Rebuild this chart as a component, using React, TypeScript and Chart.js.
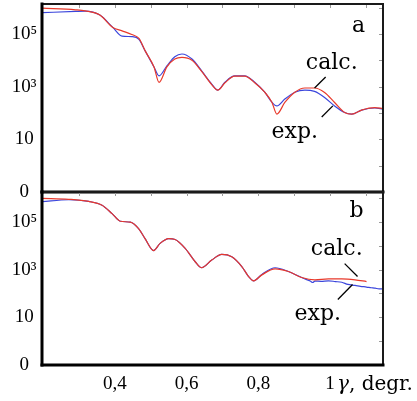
import React, { useEffect, useRef } from "react";
import { Chart, registerables } from "chart.js";

Chart.register(...registerables);

// ---- axis ticks ----
const xTickValues = [0.4, 0.6, 0.8, 1.0];
const xTickLabels = ["0,4", "0,6", "0,8", "1"];
const yTickValues = [0.1, 10, 1000, 100000];
const yTickLabels = ["0", "10", "10³", "10⁵"];
const topMinorX = [0.3, 0.4, 0.5, 0.6, 0.7, 0.8, 0.9, 1.0, 1.1];
const rightMinorY = [1, 10, 100, 1000, 10000, 100000, 1000000];

// ---- panel a ----
const topExpX = [0.197, 0.290, 0.317, 0.358, 0.394, 0.420, 0.447, 0.467, 0.484, 0.509, 0.523, 0.545, 0.567, 0.587, 0.615, 0.642, 0.670, 0.687, 0.707, 0.734, 0.762, 0.790, 0.818, 0.838, 0.852, 0.874, 0.902, 0.930, 0.957, 0.985, 1.013, 1.041, 1.061, 1.088, 1.125, 1.148];
const topExpY = [646000, 724000, 741000, 525000, 178000, 83200, 79400, 63100, 23400, 5620, 2570, 6170, 13800, 17400, 11200, 3980, 1260, 741, 1480, 2570, 2570, 1480, 617, 257, 186, 339, 617, 741, 661, 389, 186, 105, 91.2, 129, 155, 141];
const topCalcX = [0.197, 0.290, 0.317, 0.358, 0.394, 0.420, 0.447, 0.467, 0.484, 0.509, 0.523, 0.545, 0.567, 0.587, 0.615, 0.642, 0.670, 0.687, 0.707, 0.734, 0.762, 0.790, 0.818, 0.838, 0.852, 0.874, 0.902, 0.930, 0.957, 0.985, 1.013, 1.041, 1.061, 1.088, 1.125, 1.148];
const topCalcY = [955000, 832000, 759000, 525000, 178000, 132000, 95500, 67600, 23400, 5620, 1450, 5620, 11200, 12900, 10000, 3800, 1200, 741, 1410, 2510, 2510, 1410, 617, 257, 91.2, 251, 617, 891, 891, 603, 251, 105, 91.2, 129, 160, 148];

// ---- panel b ----
const botExpX = [0.197, 0.271, 0.327, 0.364, 0.392, 0.415, 0.443, 0.466, 0.484, 0.508, 0.526, 0.550, 0.568, 0.596, 0.624, 0.642, 0.670, 0.698, 0.726, 0.754, 0.773, 0.787, 0.810, 0.847, 0.884, 0.921, 0.935, 0.945, 0.952, 0.958, 0.975, 0.996, 1.015, 1.033, 1.050, 1.070, 1.085, 1.102, 1.115, 1.126, 1.137, 1.148];
const botExpY = [708000, 851000, 724000, 501000, 224000, 107000, 97700, 52500, 20000, 6310, 12600, 20000, 18200, 7760, 2140, 1200, 2510, 4370, 3470, 1350, 513, 339, 631, 1200, 832, 468, 380, 331, 288, 331, 324, 339, 316, 295, 240, 219, 200, 186, 174, 166, 155, 158];
const botCalcX = [0.197, 0.271, 0.327, 0.364, 0.392, 0.415, 0.443, 0.466, 0.484, 0.508, 0.526, 0.550, 0.568, 0.596, 0.624, 0.642, 0.670, 0.698, 0.726, 0.754, 0.773, 0.787, 0.810, 0.847, 0.884, 0.921, 0.958, 0.996, 1.033, 1.070, 1.102];
const botCalcY = [977000, 891000, 724000, 501000, 224000, 107000, 97700, 52500, 20000, 6310, 12600, 20000, 18200, 7760, 2140, 1200, 2510, 4370, 3470, 1350, 513, 339, 603, 1070, 832, 468, 372, 407, 407, 372, 316];

// ---- annotations (data coordinates) ----
const topNotes = [
  { text: "a", x: 1.080, y: 200000 },
  { text: "calc.", x: 1.005, y: 7940 },
  { text: "exp.", x: 0.902, y: 19 },
];
const topPointers = [
  { x1: 0.988, y1: 2340, x2: 0.957, y2: 890 },
  { x1: 1.008, y1: 186, x2: 0.977, y2: 71 },
];
const botNotes = [
  { text: "b", x: 1.074, y: 290000 },
  { text: "calc.", x: 1.019, y: 6800 },
  { text: "exp.", x: 0.966, y: 13.3 },
];
const botPointers = [
  { x1: 1.041, y1: 1780, x2: 1.077, y2: 513 },
  { x1: 1.063, y1: 237, x2: 1.022, y2: 56 },
];

const X_MIN = 0.1965;
const X_MAX = 1.148;
const BLUE = "#3b46dc";
const RED = "#e8392b";

const pts = (xs: number[], ys: number[]) => xs.map((x, i) => ({ x, y: ys[i] }));

const panelPlugin = {
  id: "panel",
  afterDatasetsDraw(chart: any, _args: any, opts: any) {
    const { ctx, chartArea: a, scales } = chart;
    const xs = scales.x;
    const ys = scales.y;
    const line = (x1: number, y1: number, x2: number, y2: number) => {
      ctx.beginPath();
      ctx.moveTo(x1, y1);
      ctx.lineTo(x2, y2);
      ctx.stroke();
    };
    ctx.save();
    // inner minor ticks
    ctx.strokeStyle = "#9a9a9a";
    ctx.lineWidth = 1;
    for (const v of topMinorX) {
      const px = Math.round(xs.getPixelForValue(v)) + 0.5;
      line(px, a.top, px, a.top + 4);
    }
    for (const v of rightMinorY) {
      const py = Math.round(ys.getPixelForValue(v)) + 0.5;
      if (py > a.top + 2 && py < a.bottom - 2) line(a.right - 4, py, a.right, py);
    }
    // frame
    ctx.lineCap = "square";
    ctx.strokeStyle = "#1a1a1a";
    ctx.lineWidth = 2;
    line(a.left, a.top, a.right, a.top);
    line(a.right, a.top, a.right, a.bottom);
    ctx.strokeStyle = "#000";
    ctx.lineWidth = 3;
    line(a.left, a.top, a.left, a.bottom);
    line(a.left, a.bottom, a.right, a.bottom);
    // notes
    ctx.fillStyle = "#000";
    ctx.font = '22px "DejaVu Serif"';
    ctx.textAlign = "center";
    ctx.textBaseline = "middle";
    for (const n of opts.notes || []) {
      ctx.fillText(n.text, xs.getPixelForValue(n.x), ys.getPixelForValue(n.y));
    }
    ctx.lineWidth = 1.3;
    ctx.lineCap = "butt";
    for (const p of opts.pointers || []) {
      line(xs.getPixelForValue(p.x1), ys.getPixelForValue(p.y1), xs.getPixelForValue(p.x2), ys.getPixelForValue(p.y2));
    }
    if (opts.axisTitle) {
      const x0 = xs.getPixelForValue(1.0) + 7;
      const y0 = a.bottom + 20;
      ctx.textAlign = "left";
      ctx.font = 'italic 20px "DejaVu Serif"';
      ctx.fillText("γ", x0, y0);
      const w = ctx.measureText("γ").width;
      ctx.font = '20px "DejaVu Serif"';
      ctx.fillText(", degr.", x0 + w, y0);
    }
    ctx.restore();
  },
};

function makeConfig(expX: number[], expY: number[], calcX: number[], calcY: number[], yMax: number, showX: boolean, padding: any, notes: any, pointers: any): any {
  return {
    type: "line",
    data: {
      datasets: [
        { label: "calc.", data: pts(calcX, calcY), borderColor: RED, borderWidth: 1.2, pointRadius: 0, fill: false, cubicInterpolationMode: "monotone" },
        { label: "exp.", data: pts(expX, expY), borderColor: BLUE, borderWidth: 1.2, pointRadius: 0, fill: false, cubicInterpolationMode: "monotone" },
      ],
    },
    options: {
      animation: false,
      responsive: false,
      devicePixelRatio: 1,
      layout: { padding },
      events: [],
      plugins: {
        legend: { display: false },
        tooltip: { enabled: false },
        panel: { notes, pointers, axisTitle: showX },
      },
      scales: {
        x: {
          type: "linear",
          display: showX,
          min: X_MIN,
          max: X_MAX,
          afterBuildTicks: (s: any) => {
            s.ticks = xTickValues.map((v) => ({ value: v }));
          },
          afterFit: (s: any) => {
            s.height = showX ? 36 : 0;
          },
          grid: { display: false, drawTicks: false },
          border: { display: false },
          ticks: {
            autoSkip: false,
            maxRotation: 0,
            padding: 8,
            color: "#000",
            font: { family: "Liberation Serif", size: 19 },
            callback: (_v: any, i: number) => xTickLabels[i],
          },
        },
        y: {
          type: "logarithmic",
          min: 0.1,
          max: yMax,
          afterBuildTicks: (s: any) => {
            s.ticks = yTickValues.map((v) => ({ value: v }));
          },
          afterFit: (s: any) => {
            s.width = 42;
          },
          grid: { display: false, drawTicks: false },
          border: { display: false },
          ticks: {
            autoSkip: false,
            padding: 5,
            crossAlign: "center",
            color: "#000",
            font: { family: "Liberation Serif", size: 19 },
            callback: (_v: any, i: number) => yTickLabels[i],
          },
        },
      },
    },
    plugins: [panelPlugin],
  };
}

export default function App() {
  const topRef = useRef<HTMLCanvasElement>(null);
  const botRef = useRef<HTMLCanvasElement>(null);

  useEffect(() => {
    const c1 = new Chart(
      topRef.current!,
      makeConfig(topExpX, topExpY, topCalcX, topCalcY, 1.38e6, false, { top: 24, bottom: 28, left: 0, right: 34 }, topNotes, topPointers)
    );
    const c2 = new Chart(
      botRef.current!,
      makeConfig(botExpX, botExpY, botCalcX, botCalcY, 1.8e6, true, { top: 32, bottom: 0, left: 0, right: 34 }, botNotes, botPointers)
    );
    return () => {
      c1.destroy();
      c2.destroy();
    };
  }, []);

  return (
    <div style={{ position: "absolute", left: 0, top: 0, width: 417, height: 401, overflow: "hidden", background: "#fff" }}>
      <canvas ref={topRef} width={417} height={240} style={{ position: "absolute", left: 0, top: -20, width: 417, height: 240 }} />
      <canvas ref={botRef} width={417} height={241} style={{ position: "absolute", left: 0, top: 160, width: 417, height: 241 }} />
    </div>
  );
}
